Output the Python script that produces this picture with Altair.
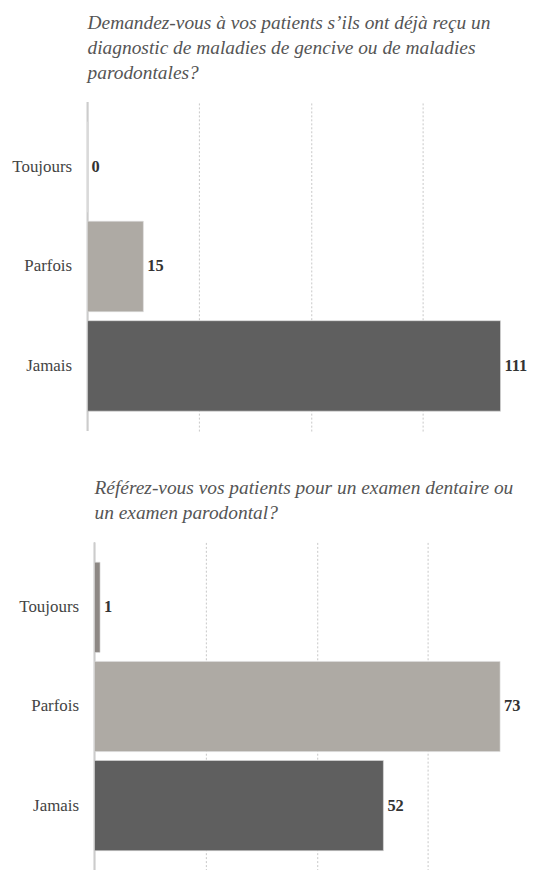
import altair as alt
import pandas as pd

categories = ["Toujours", "Parfois", "Jamais"]
values_q1 = [0, 15, 111]
values_q2 = [1, 73, 52]
title_q1 = ["Demandez-vous à vos patients s’ils ont déjà reçu un",
            "diagnostic de maladies de gencive ou de maladies",
            "parodontales?"]
title_q2 = ["Référez-vous vos patients pour un examen dentaire ou",
            "un examen parodontal?"]
colors = ["#8d8884", "#aeaaa4", "#5f5f5f"]

FONT = "Liberation Serif, Times New Roman, serif"


def panel(values, title, xmax, span, gridvals, width, height, shift, labelpad):
    df = pd.DataFrame({"cat": categories, "val": values})
    base = alt.Chart(df).encode(
        y=alt.Y("cat:N", sort=categories,
                scale=alt.Scale(paddingInner=0.09, paddingOuter=0.2),
                axis=alt.Axis(title=None, ticks=False, domain=False,
                              labelPadding=labelpad, labelFont=FONT,
                              labelFontSize=17, labelColor="#444444",
                              grid=False, minExtent=80)),
        x=alt.X("val:Q", scale=alt.Scale(domain=[0, xmax], nice=False,
                                         range=[shift, shift + span]),
                axis=alt.Axis(title=None, values=gridvals, labels=False,
                              ticks=False, domain=False, grid=True,
                              gridDash=[2, 2], gridColor="#c8c8c8",
                              gridWidth=1)),
    )
    zero = alt.Chart(df).mark_rule(color="#cccccc", strokeWidth=1.5).encode(
        x=alt.datum(0), y=alt.value(0), y2=alt.value(height)
    )
    bars = base.mark_bar(stroke="#dddddd", strokeWidth=0.6).encode(
        color=alt.Color("cat:N", scale=alt.Scale(domain=categories, range=colors),
                        legend=None)
    )
    labels = base.mark_text(align="left", baseline="middle", dx=4,
                            font=FONT, fontSize=16.5, fontWeight="bold",
                            color="#333333").encode(text="val:Q")
    return alt.layer(zero, bars, labels).properties(
        width=width, height=height,
        title=alt.TitleParams(text=title, anchor="start", frame="group",
                              font=FONT, fontStyle="italic",
                              fontWeight="normal", fontSize=19.5,
                              color="#555555", lineHeight=25, offset=18,
                              dx=shift),
    )


top = panel(values_q1, title_q1, 120, 449, [30, 60, 90], 440, 331, 0, 16)
bottom = panel(values_q2, title_q2, 80, 447, [20, 40, 60], 440, 330, 7, 9)

chart = alt.vconcat(top, bottom, spacing=46).configure(
    padding={"left": 0, "top": 2, "right": -2, "bottom": 0},
    background="white", font=FONT
).configure_view(stroke="transparent", strokeWidth=0)

chart.save("out.html", embed_options={"renderer": "svg", "actions": False})
